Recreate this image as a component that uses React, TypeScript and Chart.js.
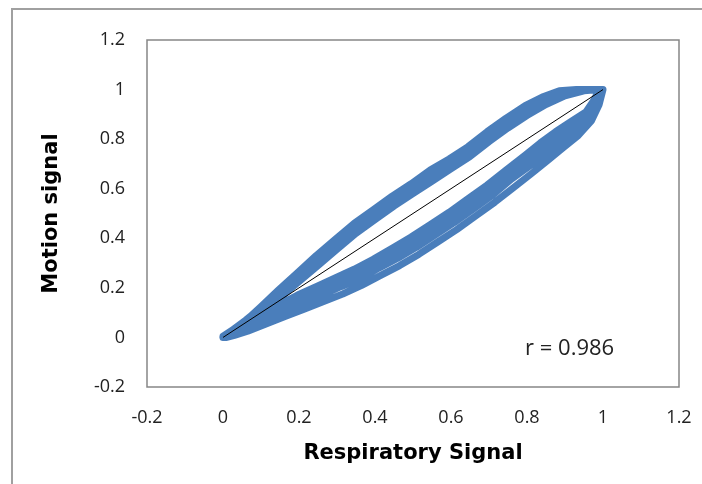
import React, { useEffect, useRef } from 'react';
import { Chart, registerables } from 'chart.js';

Chart.register(...registerables);

// ---- axis setup ----
const X_TICKS = [-0.2, 0, 0.2, 0.4, 0.6, 0.8, 1, 1.2];
const Y_TICKS = [-0.2, 0, 0.2, 0.4, 0.6, 0.8, 1, 1.2];
const X_TITLE = 'Respiratory Signal';
const Y_TITLE = 'Motion signal';
const R_LABEL = 'r = 0.986';
const R_LABEL_AT = [0.795, -0.07];

// ---- identity / fit line ----
const FIT_X = [0, 1];
const FIT_Y = [0, 1];

// ---- breathing cycles: upper branch (inhale) and lower branch (exhale) ----
const cycleAUpX = [0, 0.03, 0.06, 0.10, 0.15, 0.20, 0.25, 0.30, 0.35, 0.40, 0.45, 0.50, 0.55, 0.60, 0.65, 0.70, 0.75, 0.80, 0.85, 0.90, 0.95, 1.0];
const cycleAUpY = [0, 0.032, 0.065, 0.11, 0.175, 0.24, 0.315, 0.375, 0.445, 0.49, 0.555, 0.595, 0.655, 0.695, 0.755, 0.805, 0.87, 0.91, 0.96, 0.98, 1.0, 1.0];
const cycleALoX = [0.98, 0.96, 0.92, 0.88, 0.84, 0.80, 0.75, 0.70, 0.65, 0.60, 0.55, 0.50, 0.45, 0.40, 0.35, 0.30, 0.25, 0.20, 0.15, 0.10, 0.05, 0.02, 0];
const cycleALoY = [0.95, 0.895, 0.86, 0.81, 0.775, 0.715, 0.665, 0.595, 0.55, 0.485, 0.445, 0.385, 0.35, 0.295, 0.26, 0.225, 0.195, 0.155, 0.12, 0.075, 0.045, 0.015, 0];

const cycleBUpX = [0.01, 0.035, 0.065, 0.10, 0.145, 0.195, 0.245, 0.295, 0.345, 0.395, 0.445, 0.495, 0.545, 0.595, 0.645, 0.695, 0.745, 0.795, 0.84, 0.885, 0.93, 0.985];
const cycleBUpY = [0.005, 0.04, 0.075, 0.125, 0.19, 0.26, 0.33, 0.395, 0.46, 0.515, 0.57, 0.62, 0.675, 0.72, 0.77, 0.83, 0.885, 0.935, 0.97, 0.995, 1.0, 1.0];
const cycleBLoX = [0.985, 0.965, 0.93, 0.89, 0.85, 0.81, 0.76, 0.71, 0.66, 0.61, 0.56, 0.51, 0.46, 0.41, 0.36, 0.31, 0.26, 0.21, 0.16, 0.11, 0.06, 0.025, 0.005];
const cycleBLoY = [0.945, 0.88, 0.83, 0.79, 0.745, 0.695, 0.64, 0.575, 0.52, 0.465, 0.415, 0.365, 0.32, 0.28, 0.235, 0.205, 0.17, 0.135, 0.1, 0.065, 0.03, 0.01, 0];

const cycleCUpX = [0, 0.03, 0.06, 0.10, 0.15, 0.20, 0.25, 0.30, 0.35, 0.40, 0.45, 0.50, 0.55, 0.60, 0.65, 0.70, 0.75, 0.80, 0.85, 0.90, 0.95, 0.99];
const cycleCUpY = [0, 0.028, 0.058, 0.10, 0.16, 0.225, 0.29, 0.355, 0.42, 0.475, 0.53, 0.58, 0.63, 0.68, 0.73, 0.79, 0.845, 0.895, 0.94, 0.975, 0.995, 1.0];
const cycleCLoX = [0.975, 0.955, 0.915, 0.875, 0.835, 0.795, 0.745, 0.695, 0.645, 0.595, 0.545, 0.495, 0.445, 0.395, 0.345, 0.295, 0.245, 0.195, 0.145, 0.095, 0.045, 0.015, 0];
const cycleCLoY = [0.955, 0.91, 0.87, 0.83, 0.785, 0.735, 0.675, 0.615, 0.56, 0.505, 0.455, 0.405, 0.36, 0.315, 0.275, 0.24, 0.205, 0.17, 0.13, 0.09, 0.05, 0.02, 0.005];

const cycleDUpX = [0, 0.03, 0.06, 0.10, 0.15, 0.20, 0.25, 0.30, 0.35, 0.40, 0.45, 0.50, 0.55, 0.60, 0.65, 0.70, 0.75, 0.80, 0.85, 0.90, 0.95, 1.0];
const cycleDUpY = [0, 0.036, 0.07, 0.12, 0.185, 0.255, 0.325, 0.39, 0.45, 0.505, 0.56, 0.61, 0.66, 0.71, 0.76, 0.82, 0.875, 0.925, 0.965, 0.99, 1.0, 1.0];
const cycleDLoX = [0.99, 0.97, 0.935, 0.895, 0.855, 0.815, 0.765, 0.715, 0.665, 0.615, 0.565, 0.515, 0.465, 0.415, 0.365, 0.315, 0.265, 0.215, 0.165, 0.115, 0.065, 0.03, 0.01];
const cycleDLoY = [0.94, 0.875, 0.815, 0.765, 0.715, 0.665, 0.605, 0.545, 0.49, 0.435, 0.385, 0.335, 0.29, 0.25, 0.21, 0.175, 0.145, 0.115, 0.085, 0.055, 0.025, 0.008, 0];

const cycleEUpX = [0.005, 0.035, 0.065, 0.105, 0.155, 0.205, 0.255, 0.305, 0.355, 0.405, 0.455, 0.505, 0.555, 0.605, 0.655, 0.705, 0.755, 0.805, 0.855, 0.905, 0.955, 1.0];
const cycleEUpY = [0.005, 0.03, 0.06, 0.105, 0.17, 0.235, 0.305, 0.37, 0.435, 0.485, 0.54, 0.59, 0.645, 0.69, 0.74, 0.80, 0.855, 0.905, 0.95, 0.985, 1.0, 1.0];
const cycleELoX = [0.98, 0.96, 0.92, 0.88, 0.84, 0.80, 0.75, 0.70, 0.65, 0.60, 0.55, 0.50, 0.45, 0.40, 0.35, 0.30, 0.25, 0.20, 0.15, 0.10, 0.05, 0.02, 0];
const cycleELoY = [0.95, 0.9, 0.845, 0.80, 0.76, 0.71, 0.65, 0.585, 0.535, 0.48, 0.43, 0.38, 0.335, 0.29, 0.25, 0.215, 0.18, 0.145, 0.11, 0.07, 0.038, 0.012, 0];

const CYCLES = [
  [cycleAUpX, cycleAUpY, cycleALoX, cycleALoY],
  [cycleBUpX, cycleBUpY, cycleBLoX, cycleBLoY],
  [cycleCUpX, cycleCUpY, cycleCLoX, cycleCLoY],
  [cycleDUpX, cycleDUpY, cycleDLoX, cycleDLoY],
  [cycleEUpX, cycleEUpY, cycleELoX, cycleELoY],
];

const BLUE = '#4a7ebb';

const framePlugin = {
  id: 'frames',
  beforeDraw(chart: any) {
    const ctx = chart.ctx;
    ctx.save();
    ctx.fillStyle = '#ffffff';
    ctx.fillRect(0, 0, chart.width, chart.height);
    ctx.strokeStyle = '#a0a0a0';
    ctx.lineWidth = 2;
    ctx.strokeRect(12, 9, 900, 700);
    ctx.restore();
  },
  afterDatasetsDraw(chart: any) {
    const { ctx, chartArea: a, scales } = chart;
    ctx.save();
    ctx.strokeStyle = '#868686';
    ctx.lineWidth = 1.5;
    ctx.strokeRect(a.left, a.top, a.right - a.left, a.bottom - a.top);
    ctx.fillStyle = '#222222';
    ctx.font = '22px "Open Sans"';
    ctx.textAlign = 'left';
    ctx.textBaseline = 'alphabetic';
    ctx.fillText(R_LABEL, scales.x.getPixelForValue(R_LABEL_AT[0]), scales.y.getPixelForValue(R_LABEL_AT[1]));
    ctx.restore();
  },
};

export default function App() {
  const ref = useRef<HTMLCanvasElement | null>(null);
  useEffect(() => {
    document.documentElement.style.overflow = 'hidden';
    document.body.style.overflow = 'hidden';
    const loopData: { x: number; y: number }[] = [];
    CYCLES.forEach(([ux, uy, lx, ly]) => {
      ux.forEach((x, i) => loopData.push({ x, y: uy[i] }));
      lx.forEach((x, i) => loopData.push({ x, y: ly[i] }));
    });
    const fitData = FIT_X.map((x, i) => ({ x, y: FIT_Y[i] }));
    const tickFmt = (v: any) => String(Math.round(Number(v) * 10) / 10);
    const chart = new Chart(ref.current as HTMLCanvasElement, {
      type: 'scatter',
      data: {
        datasets: [
          {
            label: 'fit',
            data: fitData,
            showLine: true,
            borderColor: '#000000',
            borderWidth: 1,
            pointRadius: 0,
            order: 0,
          },
          {
            label: 'signal',
            data: loopData,
            showLine: true,
            borderColor: BLUE,
            backgroundColor: BLUE,
            borderWidth: 7,
            borderJoinStyle: 'round',
            borderCapStyle: 'round',
            pointRadius: 0,
            order: 1,
          },
        ],
      } as any,
      options: {
        animation: false,
        responsive: false,
        devicePixelRatio: 1,
        layout: { padding: { left: 0, top: 40, right: 23, bottom: 0 } },
        plugins: { legend: { display: false }, tooltip: { enabled: false } },
        scales: {
          x: {
            type: 'linear',
            min: X_TICKS[0],
            max: X_TICKS[X_TICKS.length - 1],
            afterBuildTicks: (s: any) => { s.ticks = X_TICKS.map((v) => ({ value: v })); },
            afterFit: (s: any) => { s.height = 97; s.paddingLeft = 0; s.paddingRight = 0; },
            grid: { display: false, drawTicks: false },
            border: { display: false },
            ticks: { callback: tickFmt, padding: 20, color: '#222222', font: { family: '"Open Sans"', size: 18 }, maxRotation: 0, autoSkip: false },
            title: { display: true, text: X_TITLE, color: '#000000', font: { family: '"DejaVu Sans"', size: 21, weight: 'bold' }, padding: { top: 0, bottom: 18 } },
          },
          y: {
            type: 'linear',
            min: Y_TICKS[0],
            max: Y_TICKS[Y_TICKS.length - 1],
            afterBuildTicks: (s: any) => { s.ticks = Y_TICKS.map((v) => ({ value: v })); },
            afterFit: (s: any) => { s.width = 147; s.paddingTop = 0; s.paddingBottom = 0; },
            grid: { display: false, drawTicks: false },
            border: { display: false },
            ticks: { callback: tickFmt, padding: 22, color: '#222222', font: { family: '"Open Sans"', size: 18 }, autoSkip: false },
            title: { display: true, text: Y_TITLE, color: '#000000', font: { family: '"DejaVu Sans"', size: 21, weight: 'bold' }, padding: { top: 39, bottom: 0 } },
          },
        },
      } as any,
      plugins: [framePlugin],
    });
    return () => chart.destroy();
  }, []);
  return (
    <div style={{ position: 'fixed', left: 0, top: 0, width: 702, height: 484 }}>
      <canvas ref={ref} width={702} height={484} style={{ display: 'block' }} />
    </div>
  );
}
